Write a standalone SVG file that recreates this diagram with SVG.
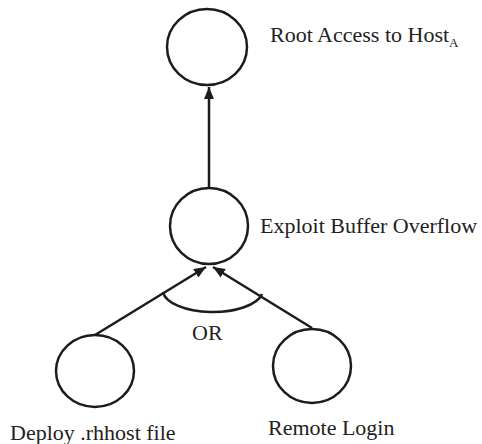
<svg xmlns="http://www.w3.org/2000/svg" width="482" height="444" viewBox="0 0 482 444">
<style>
.node{fill:none;stroke:#1c1c1c;stroke-width:2.5}
.edge{fill:none;stroke:#1c1c1c;stroke-width:2.5}
.lbl{font-family:"Liberation Serif","Times New Roman",serif;font-size:22px;fill:#222}
.sub{font-family:"Liberation Serif","Times New Roman",serif;font-size:13px;fill:#222}
</style>
<defs>
<marker id="arr" viewBox="0 0 12 10" refX="12" refY="5" markerWidth="12" markerHeight="10" markerUnits="userSpaceOnUse" orient="auto">
<path d="M0,0 L12,5 L0,10 Z" fill="#1c1c1c"/>
</marker>
</defs>
<rect width="482" height="444" fill="#fff"/>
<g id="connectors">
<line class="edge" x1="209" y1="188" x2="209" y2="87" marker-end="url(#arr)"/>
<line class="edge" x1="95" y1="335" x2="206" y2="267" marker-end="url(#arr)"/>
<line class="edge" x1="312" y1="328" x2="213" y2="267" marker-end="url(#arr)"/>
<path class="edge" d="M163,292 A50,22 0 0 0 262,294"/>
<text class="lbl" x="192" y="340">OR</text>
</g>
<g id="root">
<ellipse class="node" cx="207" cy="47" rx="40" ry="38"/>
<text class="lbl" x="270" y="42">Root Access to Host<tspan class="sub" dy="5">A</tspan></text>
</g>
<g id="exploit">
<ellipse class="node" cx="209" cy="226" rx="39" ry="38"/>
<text class="lbl" x="260" y="233">Exploit Buffer Overflow</text>
</g>
<g id="deploy">
<ellipse class="node" cx="95" cy="371" rx="39" ry="36"/>
<text class="lbl" x="10" y="440">Deploy .rhhost file</text>
</g>
<g id="remote">
<ellipse class="node" cx="312" cy="366" rx="39" ry="37"/>
<text class="lbl" x="268" y="435">Remote Login</text>
</g>
</svg>
